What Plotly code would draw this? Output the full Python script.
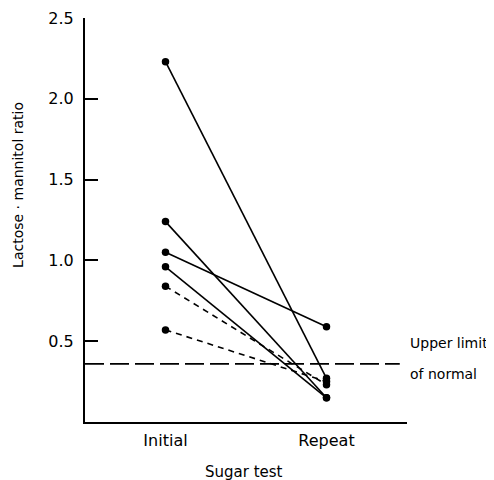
import plotly.graph_objects as go

categories = ["Initial", "Repeat"]
initial_vals = [2.23, 1.24, 1.05, 0.96, 0.84, 0.57]
repeat_vals = [0.27, 0.15, 0.59, 0.15, 0.23, 0.25]
line_styles = ["solid", "solid", "solid", "solid", "6px,5px", "6px,5px"]
upper_limit = 0.36
y_ticks = [0.5, 1.0, 1.5, 2.0, 2.5]

FONT = "DejaVu Sans"
fig = go.Figure()
xpos = [1, 2]
for a, b, d in zip(initial_vals, repeat_vals, line_styles):
    fig.add_trace(go.Scatter(
        x=xpos, y=[a, b], mode="lines+markers",
        line=dict(color="black", width=1.6, dash=d),
        marker=dict(color="black", size=7.5),
        showlegend=False, hoverinfo="skip"))

fig.add_shape(type="line", xref="x", yref="y", x0=0.5, x1=2.455,
              y0=upper_limit, y1=upper_limit,
              line=dict(color="black", width=1.8, dash="19px,6px"))

for txt, yv in [("Upper limit", 0.49), ("of normal", 0.30)]:
    fig.add_annotation(x=1.003, y=yv, xref="paper", yref="y", xanchor="left",
                       yanchor="middle", text=txt, showarrow=False,
                       font=dict(family=FONT, size=14, color="black"))

fig.add_annotation(x=-0.208, y=0.587, xref="paper", yref="paper",
                   xanchor="center", yanchor="middle",
                   text="Lactose · mannitol ratio", textangle=-90, showarrow=False,
                   font=dict(family=FONT, size=14, color="black"))
fig.add_annotation(x=0.494, y=-0.124, xref="paper", yref="paper",
                   text="Sugar test", showarrow=False, xanchor="center", yanchor="middle",
                   font=dict(family=FONT, size=15, color="black"))

fig.update_xaxes(range=[0.5, 2.5], tickvals=xpos, ticktext=categories,
                 showgrid=False, zeroline=False, showline=True, linecolor="black",
                 linewidth=2, ticks="", ticklabelstandoff=3, automargin=False,
                 tickfont=dict(family=FONT, size=16, color="black"))
fig.update_yaxes(range=[0, 2.5], tickvals=y_ticks, tickformat=".1f",
                 showgrid=False, zeroline=False, showline=True, linecolor="black",
                 linewidth=2, ticks="inside", ticklen=13, tickwidth=2, tickcolor="black",
                 ticklabelstandoff=6, automargin=False,
                 tickfont=dict(family=FONT, size=16, color="black"))

fig.update_layout(width=486, height=472, margin=dict(l=77, r=87, t=10, b=58),
                  plot_bgcolor="white", paper_bgcolor="white")
fig.write_html("out.html")
